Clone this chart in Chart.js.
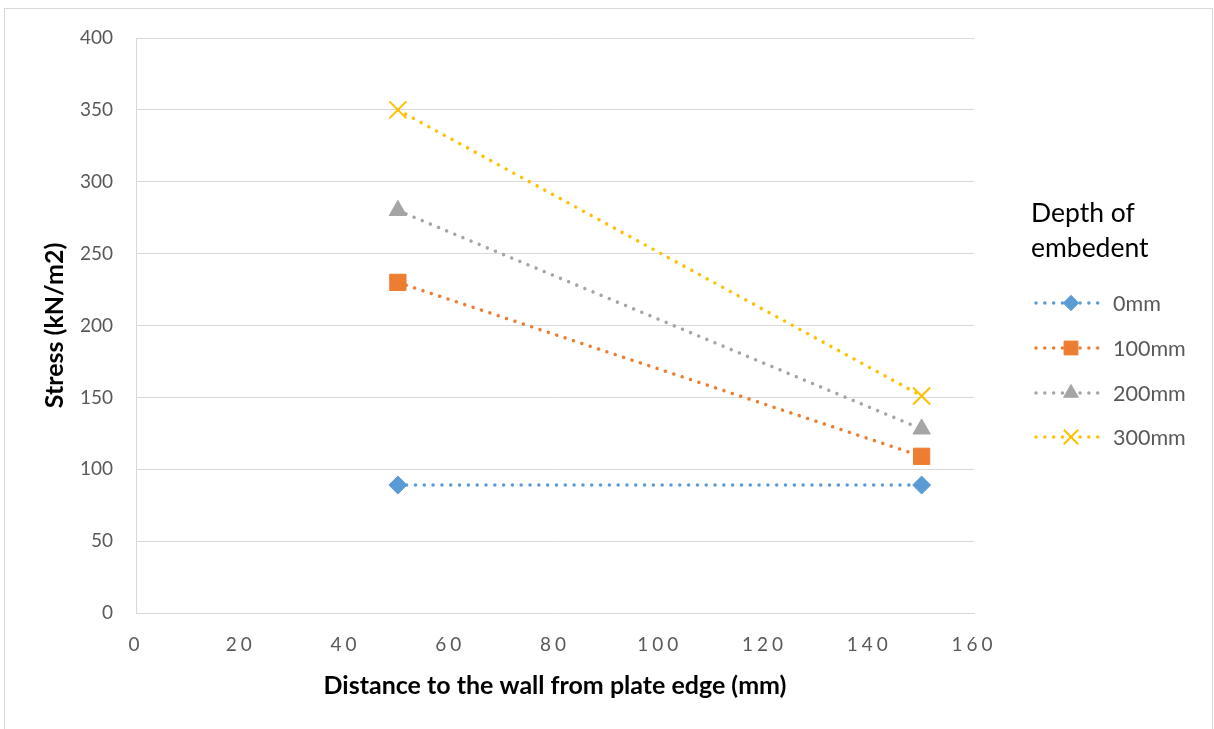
<!DOCTYPE html>
<html>
<head>
<meta charset="utf-8">
<script src="https://cdn.jsdelivr.net/npm/chart.js@4/dist/chart.umd.min.js"></script>
<style>
  html, body { margin: 0; padding: 0; background: #fff; overflow: hidden; }
  canvas { display: block; }
</style>
</head>
<body>
<canvas id="c" width="1214" height="729"></canvas>
<script>
// Distance from the plate edge (mm)
const distances = [50, 150];
// Stress (kN/m2) for each embedment depth
const seriesNames = ['0mm', '100mm', '200mm', '300mm'];
const stress0mm = [89, 89];
const stress100mm = [230, 109];
const stress200mm = [280, 128];
const stress300mm = [350, 151];
// Axis ticks
const xTickValues = [0, 20, 40, 60, 80, 100, 120, 140, 160];
const yTickValues = [0, 50, 100, 150, 200, 250, 300, 350, 400];
// Legend heading
const legendTitle = ['Depth of', 'embedent'];

const seriesValues = [stress0mm, stress100mm, stress200mm, stress300mm];
const seriesStyles = [
  { color: '#5B9BD5', pointStyle: 'rectRot', radius: 9, pbw: 1 },
  { color: '#ED7D31', pointStyle: 'rect', radius: 11.5, pbw: 1 },
  { color: '#A5A5A5', pointStyle: 'triangle', radius: 10, pbw: 1 },
  { color: '#FFC000', pointStyle: 'crossRot', radius: 12, pbw: 2 }
];
const DOT_DASH = [0.01, 8.8];

const datasets = seriesNames.map((name, i) => {
  const st = seriesStyles[i];
  return {
    label: name,
    data: distances.map((x, j) => ({ x: x, y: seriesValues[i][j] })),
    showLine: true,
    borderColor: st.color,
    backgroundColor: st.color,
    borderWidth: 3.5,
    borderDash: DOT_DASH,
    borderCapStyle: 'round',
    pointStyle: st.pointStyle,
    pointRadius: st.radius,
    pointHoverRadius: st.radius,
    pointBackgroundColor: st.color,
    pointBorderColor: st.color,
    pointBorderWidth: st.pbw
  };
});

// Light outer frame around the whole chart
const frame = {
  id: 'frame',
  beforeDraw(chart) {
    const ctx = chart.ctx;
    ctx.save();
    ctx.fillStyle = '#ffffff';
    ctx.fillRect(0, 0, chart.width, chart.height);
    ctx.strokeStyle = '#D9D9D9';
    ctx.lineWidth = 1;
    ctx.strokeRect(4.5, 8.5, 1208, 740);
    ctx.restore();
  }
};

// Spaced-out digits on the horizontal axis
const spacedXLabels = {
  id: 'spacedXLabels',
  afterLayout(chart) {
    const s = chart.scales.x;
    if (s && !s._spaced) {
      const orig = s.drawLabels.bind(s);
      s.drawLabels = function (area) {
        const ctx = this.ctx;
        ctx.save();
        ctx.letterSpacing = '4px';
        orig(area);
        ctx.restore();
      };
      s._spaced = true;
    }
  }
};

// Legend on the right: heading, dotted line with marker, series name
const sideLegend = {
  id: 'sideLegend',
  afterDraw(chart) {
    const ctx = chart.ctx;
    ctx.save();
    ctx.fillStyle = '#000000';
    ctx.font = '26.5px Lato';
    ctx.textBaseline = 'alphabetic';
    ctx.textAlign = 'left';
    ctx.fillText(legendTitle[0], 1031, 222);
    ctx.fillText(legendTitle[1], 1031, 257);
    const rows = [303, 348, 393, 437];
    chart.data.datasets.forEach((ds, i) => {
      const y = rows[i];
      ctx.save();
      ctx.strokeStyle = ds.borderColor;
      ctx.lineWidth = ds.borderWidth;
      ctx.lineCap = 'round';
      ctx.setLineDash(ds.borderDash);
      ctx.beginPath();
      ctx.moveTo(1036, y);
      ctx.lineTo(1104, y);
      ctx.stroke();
      ctx.restore();
      ctx.save();
      ctx.setLineDash([]);
      ctx.fillStyle = ds.pointBackgroundColor;
      ctx.strokeStyle = ds.pointBorderColor;
      ctx.lineWidth = ds.pointBorderWidth;
      Chart.helpers.drawPoint(ctx, {
        pointStyle: ds.pointStyle,
        radius: ds.pointRadius * 0.85,
        rotation: 0,
        borderWidth: ds.pointBorderWidth
      }, 1071, y);
      ctx.restore();
      ctx.fillStyle = '#595959';
      ctx.font = '21.5px Lato';
      ctx.textBaseline = 'middle';
      ctx.fillText(ds.label, 1113, y + 1);
    });
    ctx.restore();
  }
};

new Chart(document.getElementById('c'), {
  type: 'scatter',
  data: { datasets: datasets },
  plugins: [frame, spacedXLabels, sideLegend],
  options: {
    responsive: false,
    animation: false,
    devicePixelRatio: 1,
    layout: { padding: { left: 0, right: 240, top: 38, bottom: 0 } },
    plugins: {
      legend: { display: false },
      tooltip: { enabled: false },
      title: { display: false }
    },
    scales: {
      x: {
        type: 'linear',
        min: xTickValues[0],
        max: xTickValues[xTickValues.length - 1],
        afterBuildTicks: s => { s.ticks = xTickValues.map(v => ({ value: v })); },
        afterFit: s => { s.height = 116; },
        grid: { display: false, drawTicks: false },
        border: { display: true, color: '#D9D9D9', width: 1 },
        ticks: {
          color: '#595959',
          font: { family: 'Lato', size: 19 },
          padding: 20,
          maxRotation: 0,
          autoSkip: false
        },
        title: {
          display: true,
          text: 'Distance to the wall from plate edge (mm)',
          color: '#000000',
          font: { family: 'Lato', size: 25, weight: 'bold' },
          padding: { top: 0, bottom: 28 }
        }
      },
      y: {
        type: 'linear',
        min: yTickValues[0],
        max: yTickValues[yTickValues.length - 1],
        afterBuildTicks: s => { s.ticks = yTickValues.map(v => ({ value: v })); },
        afterFit: s => { s.width = 136; },
        grid: { display: true, color: '#D9D9D9', lineWidth: 1, drawTicks: false },
        border: { display: true, color: '#D9D9D9', width: 1 },
        ticks: {
          color: '#595959',
          font: { family: 'Lato', size: 19 },
          padding: 23,
          autoSkip: false
        },
        title: {
          display: true,
          text: 'Stress (kN/m2)',
          color: '#000000',
          font: { family: 'Lato', size: 25, weight: 'bold' },
          padding: { top: 40, bottom: 0 }
        }
      }
    }
  }
});
</script>
</body>
</html>
